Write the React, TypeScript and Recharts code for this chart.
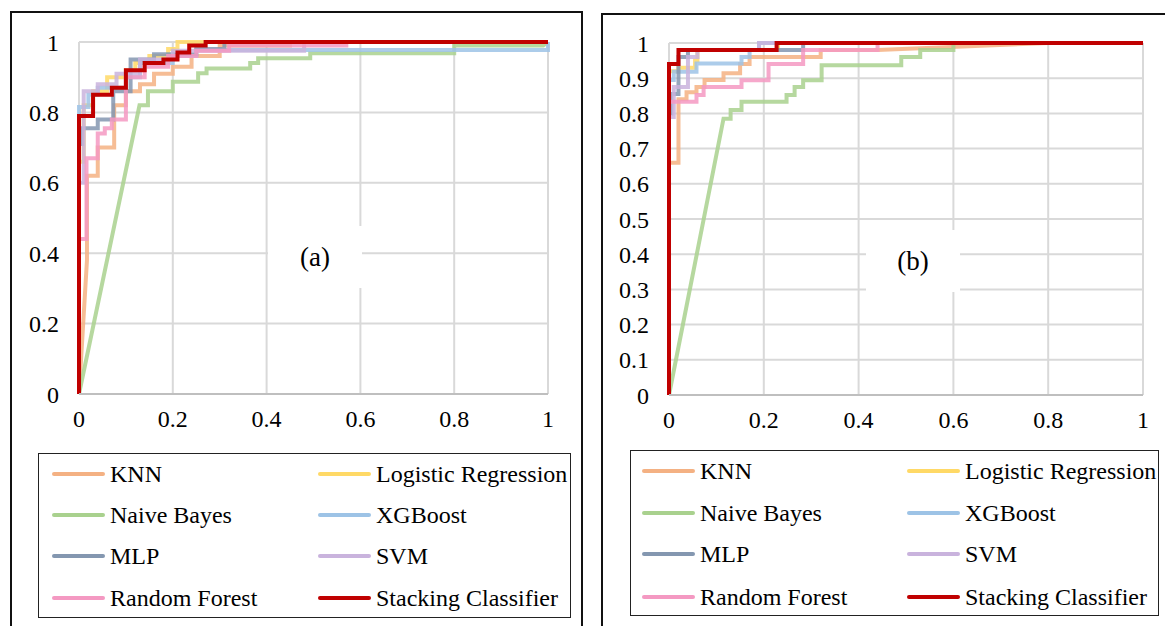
import React from "react"
import { LineChart, Line, XAxis, YAxis, CartesianGrid } from "recharts"

type Pt = [number, number]

// ROC points (FPR, TPR) — panel (a)
const knnA: Pt[] = [[0, 0], [0.017, 0.38], [0.017, 0.62], [0.04, 0.62], [0.04, 0.7], [0.075, 0.7], [0.075, 0.82], [0.1, 0.82], [0.1, 0.86], [0.13, 0.86], [0.13, 0.88], [0.16, 0.88], [0.16, 0.91], [0.2, 0.91], [0.2, 0.93], [0.24, 0.93], [0.24, 0.96], [0.3, 0.96], [0.3, 0.99], [0.45, 0.99], [0.45, 1], [1, 1]]
const lrA: Pt[] = [[0, 0], [0, 0.66], [0.01, 0.66], [0.01, 0.82], [0.03, 0.82], [0.03, 0.86], [0.06, 0.86], [0.06, 0.9], [0.1, 0.9], [0.1, 0.92], [0.12, 0.92], [0.12, 0.94], [0.15, 0.94], [0.15, 0.96], [0.19, 0.96], [0.19, 0.98], [0.21, 0.98], [0.21, 1], [1, 1]]
const nbA: Pt[] = [[0, 0], [0.129, 0.82], [0.147, 0.82], [0.147, 0.86], [0.2, 0.86], [0.2, 0.887], [0.254, 0.887], [0.254, 0.911], [0.272, 0.911], [0.272, 0.925], [0.365, 0.925], [0.365, 0.94], [0.382, 0.94], [0.382, 0.954], [0.493, 0.954], [0.493, 0.968], [0.8, 0.968], [0.8, 0.99], [0.99, 0.99], [1, 1]]
const xgbA: Pt[] = [[0, 0], [0, 0.815], [0.02, 0.815], [0.02, 0.85], [0.04, 0.85], [0.04, 0.87], [0.1, 0.87], [0.1, 0.9], [0.13, 0.9], [0.13, 0.94], [0.2, 0.94], [0.2, 0.96], [0.25, 0.96], [0.25, 0.977], [1, 0.977], [1, 1]]
const mlpA: Pt[] = [[0, 0], [0, 0.71], [0.006, 0.71], [0.006, 0.755], [0.04, 0.755], [0.04, 0.78], [0.073, 0.78], [0.073, 0.86], [0.11, 0.86], [0.11, 0.95], [0.16, 0.95], [0.16, 0.965], [0.25, 0.965], [0.25, 0.98], [0.31, 0.98], [0.31, 1], [1, 1]]
const svmA: Pt[] = [[0, 0], [0, 0.6], [0.01, 0.6], [0.01, 0.86], [0.04, 0.86], [0.04, 0.88], [0.08, 0.88], [0.08, 0.91], [0.13, 0.91], [0.13, 0.95], [0.2, 0.95], [0.2, 0.975], [0.48, 0.975], [0.48, 1], [1, 1]]
const rfA: Pt[] = [[0, 0], [0, 0.44], [0.016, 0.44], [0.016, 0.67], [0.04, 0.67], [0.04, 0.74], [0.055, 0.74], [0.055, 0.755], [0.07, 0.755], [0.07, 0.78], [0.1, 0.78], [0.1, 0.9], [0.14, 0.9], [0.14, 0.93], [0.19, 0.93], [0.19, 0.96], [0.25, 0.96], [0.25, 0.975], [0.32, 0.975], [0.32, 0.99], [0.57, 0.99], [0.57, 1], [1, 1]]
const stackA: Pt[] = [[0, 0], [0, 0.79], [0.03, 0.79], [0.03, 0.85], [0.07, 0.85], [0.07, 0.87], [0.1, 0.87], [0.1, 0.92], [0.14, 0.92], [0.14, 0.94], [0.18, 0.94], [0.18, 0.95], [0.21, 0.95], [0.21, 0.97], [0.235, 0.97], [0.235, 0.99], [0.27, 0.99], [0.27, 1], [1, 1]]

// panel (b)
const knnB: Pt[] = [[0, 0], [0, 0.66], [0.02, 0.66], [0.02, 0.84], [0.037, 0.84], [0.037, 0.86], [0.058, 0.86], [0.058, 0.875], [0.075, 0.875], [0.075, 0.895], [0.115, 0.895], [0.115, 0.914], [0.15, 0.914], [0.15, 0.94], [0.17, 0.94], [0.17, 0.96], [0.32, 0.96], [0.32, 0.98], [0.44, 0.98], [0.8, 1], [1, 1]]
const lrB: Pt[] = [[0, 0], [0, 0.92], [0.02, 0.92], [0.02, 0.93], [0.055, 0.93], [0.055, 0.95], [0.06, 0.95], [0.06, 0.98], [0.23, 0.98], [0.23, 1], [1, 1]]
const nbB: Pt[] = [[0, 0], [0.115, 0.785], [0.13, 0.785], [0.13, 0.81], [0.153, 0.81], [0.153, 0.833], [0.248, 0.833], [0.248, 0.852], [0.265, 0.852], [0.265, 0.875], [0.283, 0.875], [0.283, 0.894], [0.322, 0.894], [0.322, 0.937], [0.49, 0.937], [0.49, 0.96], [0.53, 0.96], [0.53, 0.98], [0.6, 0.98], [0.6, 1], [1, 1]]
const xgbB: Pt[] = [[0, 0], [0, 0.895], [0.01, 0.895], [0.01, 0.918], [0.058, 0.918], [0.058, 0.942], [0.153, 0.942], [0.153, 0.96], [0.17, 0.96], [0.17, 0.98], [0.19, 0.98], [0.19, 1], [1, 1]]
const mlpB: Pt[] = [[0, 0], [0, 0.8], [0.005, 0.8], [0.005, 0.855], [0.02, 0.855], [0.02, 0.96], [0.04, 0.96], [0.04, 0.98], [0.283, 0.98], [0.283, 1], [1, 1]]
const svmB: Pt[] = [[0, 0], [0, 0.79], [0.01, 0.79], [0.01, 0.875], [0.04, 0.875], [0.04, 0.96], [0.06, 0.96], [0.06, 0.98], [0.19, 0.98], [0.19, 1], [1, 1]]
const rfB: Pt[] = [[0, 0], [0, 0.833], [0.058, 0.833], [0.058, 0.852], [0.073, 0.852], [0.073, 0.875], [0.153, 0.875], [0.153, 0.894], [0.21, 0.894], [0.21, 0.94], [0.283, 0.94], [0.283, 0.98], [0.44, 0.98], [0.44, 1], [1, 1]]
const stackB: Pt[] = [[0, 0], [0, 0.94], [0.02, 0.94], [0.02, 0.98], [0.227, 0.98], [0.227, 1], [1, 1]]

const models = ["KNN", "Logistic Regression", "Naive Bayes", "XGBoost", "MLP", "SVM", "Random Forest", "Stacking Classifier"]
const colors = ["#F4B183", "#FFD966", "#A9D18E", "#9DC3E6", "#8497B0", "#C9B3DD", "#F499C2", "#C00000"]

const xTicks = [0, 0.2, 0.4, 0.6, 0.8, 1]
const yTicksA = [0, 0.2, 0.4, 0.6, 0.8, 1]
const yTicksB = [0, 0.1, 0.2, 0.3, 0.4, 0.5, 0.6, 0.7, 0.8, 0.9, 1]

const seriesA = [knnA, lrA, nbA, xgbA, mlpA, svmA, rfA, stackA]
const seriesB = [knnB, lrB, nbB, xgbB, mlpB, svmB, rfB, stackB]

const font = "Liberation Serif, Times New Roman, serif"
const tickStyle = { fontSize: 24, fill: "#000", fontFamily: font }

function RocPanel({ series, yTicks, left, top, width }: { series: Pt[][]; yTicks: number[]; left: number; top: number; width: number }) {
  return (
    <div style={{ position: "absolute", left, top, fontFamily: font }}>
      <LineChart width={width} height={422} margin={{ top: 30, right: 12, bottom: 0, left: 0 }} style={{ fontFamily: font }}>
        <CartesianGrid stroke="#D9D9D9" strokeWidth={2} />
        <XAxis
          type="number"
          dataKey="x"
          domain={[0, 1]}
          ticks={xTicks}
          tickFormatter={(v) => String(v)}
          tick={tickStyle}
          tickLine={false}
          tickSize={6}
          tickMargin={10}
          height={40}
          axisLine={{ stroke: "#BFBFBF", strokeWidth: 2 }}
        />
        <YAxis
          type="number"
          domain={[0, 1]}
          ticks={yTicks}
          tickFormatter={(v) => String(v)}
          tick={tickStyle}
          tickLine={false}
          tickSize={6}
          tickMargin={14}
          width={59}
          axisLine={false}
        />
        {series.map((pts, i) => (
          <Line
            key={models[i]}
            data={pts.map(([x, y]) => ({ x, y }))}
            dataKey="y"
            name={models[i]}
            type="linear"
            stroke={colors[i]}
            strokeWidth={4}
            strokeOpacity={i === 7 ? 1 : 0.85}
            dot={false}
            activeDot={false}
            isAnimationActive={false}
          />
        ))}
      </LineChart>
    </div>
  )
}

function LegendBox({ left, top, width, height, rows, col1, col2 }: { left: number; top: number; width: number; height: number; rows: number[]; col1: number; col2: number }) {
  return (
    <div style={{ position: "absolute", left, top, width, height, border: "1.5px solid #222", boxSizing: "border-box", background: "#fff" }}>
      {models.map((m, i) => {
        const r = Math.floor(i / 2)
        const c = i % 2 === 0 ? col1 : col2
        return (
          <div key={m} style={{ position: "absolute", left: c, top: rows[r] - 16, height: 32, display: "flex", alignItems: "center", whiteSpace: "nowrap" }}>
            <div style={{ width: 53, height: 4, borderRadius: 2, background: colors[i], marginRight: 5 }} />
            <span style={{ fontFamily: font, fontSize: 24, color: "#000" }}>{m}</span>
          </div>
        )
      })}
    </div>
  )
}

function Tag({ text, left, top }: { text: string; left: number; top: number }) {
  return (
    <div style={{ position: "absolute", left, top, width: 94, height: 62, background: "#fff", display: "flex", alignItems: "center", justifyContent: "center", fontFamily: font, fontSize: 27, color: "#000" }}>
      {text}
    </div>
  )
}

export default function App() {
  return (
    <div style={{ position: "absolute", left: 0, top: 0, width: 1165, height: 626, overflow: "hidden", background: "#fff" }}>
      <div style={{ position: "absolute", left: 10, top: 11, width: 573, height: 640, border: "2px solid #111", boxSizing: "border-box" }} />
      <div style={{ position: "absolute", left: 601, top: 13, width: 600, height: 640, border: "2px solid #111", boxSizing: "border-box" }} />
      <RocPanel series={seriesA} yTicks={yTicksA} left={20} top={12} width={540} />
      <RocPanel series={seriesB} yTicks={yTicksB} left={610} top={13} width={545} />
      <Tag text="(a)" left={268} top={226} />
      <Tag text="(b)" left={866} top={230} />
      <LegendBox left={38} top={453} width={533} height={165} rows={[20, 61, 102, 144]} col1={13} col2={279} />
      <LegendBox left={630} top={450} width={529} height={166} rows={[20, 62, 103, 146]} col1={11} col2={276} />
    </div>
  )
}
